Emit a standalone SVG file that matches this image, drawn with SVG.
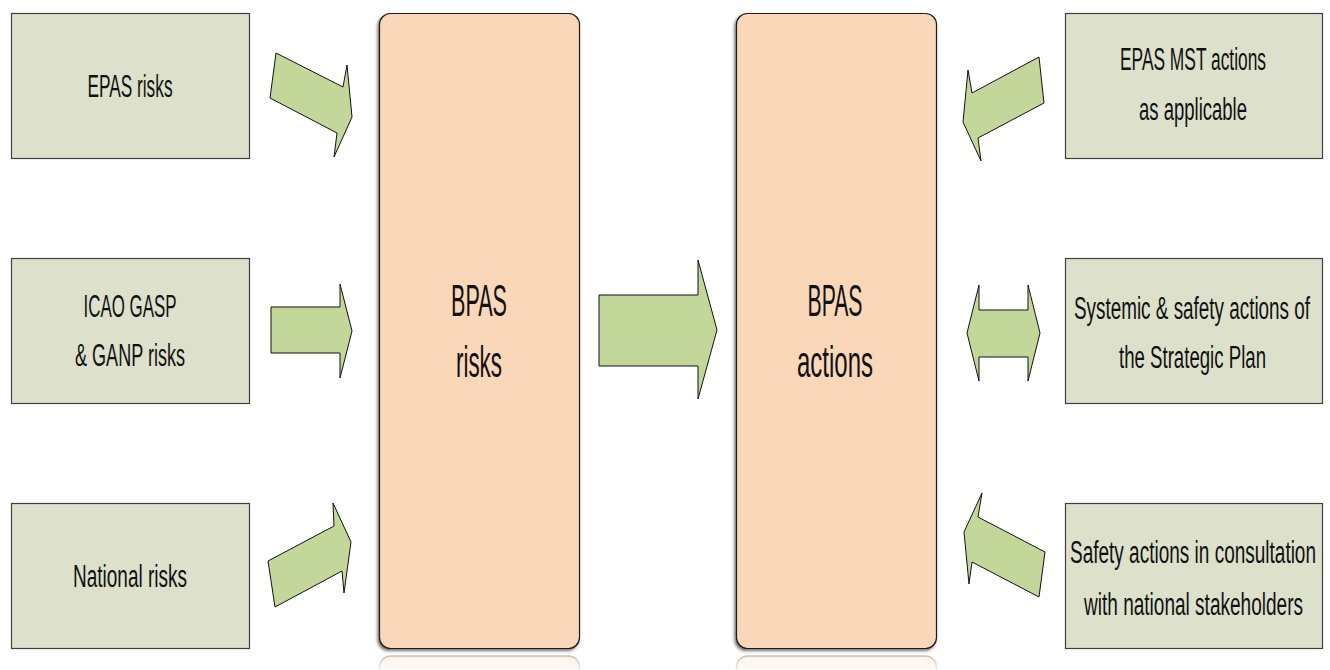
<svg xmlns="http://www.w3.org/2000/svg" width="1330" height="670" viewBox="0 0 1330 670">
<defs>
<style>
.side{fill:#dde1cc;stroke:#404040;stroke-width:1.2}
.core{fill:#fbd7b9;stroke:#1a1a1a;stroke-width:1.2}
.arr{fill:#c4d79b;stroke:#111;stroke-width:1}
.t{font-family:"Liberation Sans",Arial,sans-serif;font-size:31px;fill:#111;text-anchor:middle}
.big{font-family:"Liberation Sans",Arial,sans-serif;font-size:44px;fill:#111;text-anchor:middle}
</style>
<filter id="sh" x="-5%" y="-2%" width="110%" height="104%">
<feDropShadow dx="-1.5" dy="2" stdDeviation="1.5" flood-color="#000" flood-opacity="0.55"/>
</filter>
<linearGradient id="refl" x1="0" y1="0" x2="0" y2="1">
<stop offset="0" stop-color="#fbd7b9" stop-opacity="0.35"/>
<stop offset="0.5" stop-color="#ffffff" stop-opacity="0"/>
</linearGradient>
<linearGradient id="reflS" x1="0" y1="0" x2="0" y2="1">
<stop offset="0" stop-color="#888" stop-opacity="0.5"/>
<stop offset="0.5" stop-color="#fff" stop-opacity="0"/>
</linearGradient>
</defs>

<g id="epas-risks"><rect class="side" x="11.5" y="13.5" width="238" height="145"/>
<text class="t" transform="translate(130,97) scale(0.6,1)" textLength="141.7" lengthAdjust="spacingAndGlyphs">EPAS risks</text></g>
<g id="icao-risks"><rect class="side" x="11.5" y="258.5" width="238" height="145"/>
<text class="t" transform="translate(130,317) scale(0.6,1)" textLength="155" lengthAdjust="spacingAndGlyphs">ICAO GASP</text>
<text class="t" transform="translate(130,366) scale(0.6,1)" textLength="183.3" lengthAdjust="spacingAndGlyphs">&amp; GANP risks</text></g>
<g id="national-risks"><rect class="side" x="11.5" y="503.5" width="238" height="145"/>
<text class="t" transform="translate(130,587) scale(0.6,1)" textLength="190" lengthAdjust="spacingAndGlyphs">National risks</text></g>

<g id="bpas-risks"><rect class="core" filter="url(#sh)" x="379.5" y="13.5" width="200" height="635" rx="11"/>
<rect x="379.5" y="656" width="200" height="60" rx="11" fill="url(#refl)" stroke="url(#reflS)" stroke-width="1.5"/>
<text class="big" transform="translate(479,316) scale(0.52,1)" textLength="107.7" lengthAdjust="spacingAndGlyphs">BPAS</text>
<text class="big" transform="translate(479,377) scale(0.52,1)" textLength="88.5" lengthAdjust="spacingAndGlyphs">risks</text></g>

<g id="bpas-actions"><rect class="core" filter="url(#sh)" x="736.5" y="13.5" width="200" height="635" rx="11"/>
<rect x="736.5" y="656" width="200" height="60" rx="11" fill="url(#refl)" stroke="url(#reflS)" stroke-width="1.5"/>
<text class="big" transform="translate(835,316) scale(0.52,1)" textLength="105.8" lengthAdjust="spacingAndGlyphs">BPAS</text>
<text class="big" transform="translate(835,377) scale(0.52,1)" textLength="146.2" lengthAdjust="spacingAndGlyphs">actions</text></g>

<g id="epas-mst"><rect class="side" x="1065.5" y="13.5" width="257" height="145"/>
<text class="t" transform="translate(1193,70) scale(0.6,1)" textLength="243.3" lengthAdjust="spacingAndGlyphs">EPAS MST actions</text>
<text class="t" transform="translate(1193,120) scale(0.6,1)" textLength="180" lengthAdjust="spacingAndGlyphs">as applicable</text></g>
<g id="systemic"><rect class="side" x="1065.5" y="258.5" width="257" height="145"/>
<text class="t" transform="translate(1192,319) scale(0.6,1)" textLength="393.3" lengthAdjust="spacingAndGlyphs">Systemic &amp; safety actions of</text>
<text class="t" transform="translate(1192.5,368) scale(0.6,1)" textLength="245" lengthAdjust="spacingAndGlyphs">the Strategic Plan</text></g>
<g id="safety-consult"><rect class="side" x="1065.5" y="503.5" width="257" height="145"/>
<text class="t" transform="translate(1193,563) scale(0.6,1)" textLength="410" lengthAdjust="spacingAndGlyphs">Safety actions in consultation</text>
<text class="t" transform="translate(1193.5,615) scale(0.6,1)" textLength="365" lengthAdjust="spacingAndGlyphs">with national stakeholders</text></g>

<g id="connectors">
<polygon class="arr" points="276,53 343,87 347,65 352,117 334,157 337,133 270,98"/>
<polygon class="arr" points="271,307 340,307 340,284 352,331 340,378 340,353 271,353"/>
<polygon class="arr" points="268,561 334,526 333,503 351,542 344,593 342,571 275,607"/>
<polygon class="arr" points="599,295 698,295 698,260 717,330 698,399 698,366 599,366"/>
<polygon class="arr" points="1039,57 1044,103 978,138 981,161 963,122 968,70 972,93"/>
<polygon class="arr" points="967,333 979,285 979,310 1028,310 1028,285 1040,333 1028,381 1028,357 979,357 979,381"/>
<polygon class="arr" points="982,493 978,517 1045,552 1039,597 972,562 969,584 964,532"/>
</g>
</svg>
